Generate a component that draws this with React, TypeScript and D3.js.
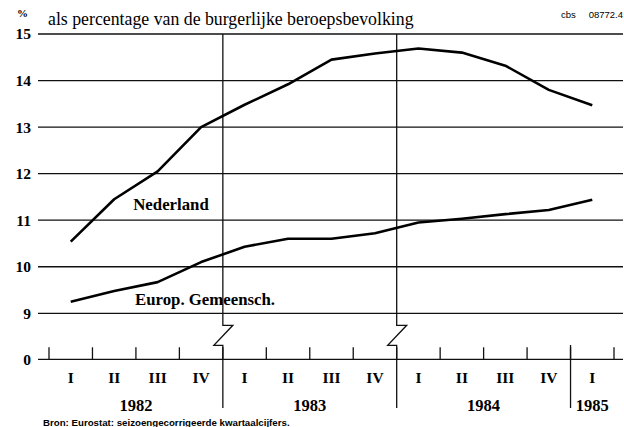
import React from "react";
import { scaleLinear, line } from "d3";

// quarterly unemployment, % of civilian labour force (seasonally adjusted)
const quarters = ["I", "II", "III", "IV", "I", "II", "III", "IV", "I", "II", "III", "IV", "I"];
const years = [
  { label: "1982", start: 0, end: 4 },
  { label: "1983", start: 4, end: 8 },
  { label: "1984", start: 8, end: 12 },
  { label: "1985", start: 12, end: 13 }
];
const nederland = [10.54, 11.45, 12.05, 13.0, 13.48, 13.92, 14.45, 14.58, 14.69, 14.6, 14.32, 13.8, 13.47];
const europ = [9.25, 9.48, 9.67, 10.1, 10.43, 10.6, 10.6, 10.72, 10.95, 11.03, 11.13, 11.22, 11.44];
const yTicks = [0, 9, 10, 11, 12, 13, 14, 15];

const W = 624;
const H = 427;
const LEFT = 38;
const RIGHT = 623;

export default function App() {
  // broken axis: 0 .. 9 squeezed, 9 .. 15 regular
  const y = scaleLinear().domain([0, 9, 15]).range([359.3, 313.3, 34]);
  const x = scaleLinear().domain([0, 13]).range([49, 614]);

  const lineFn = line<number>()
    .x((d, i) => x(i + 0.5))
    .y(d => y(d));

  const serif = "Liberation Serif";
  const sans = "Liberation Sans";

  const breakMark = (bx: number) => {
    const top = y(9);
    const bot = y(0);
    return `M${bx},${top}V${top + 12}H${bx + 10}L${bx - 9},${top + 32}H${bx}V${bot}`;
  };

  return (
    <svg
      width={W}
      height={H}
      style={{ position: "absolute", left: 0, top: 0, background: "#fff" }}
    >
      <rect width={W} height={H} fill="#fff" />

      {/* header */}
      <text x={17} y={17} fontFamily={serif} fontSize={11} fontWeight="bold">
        %
      </text>
      <text x={48} y={25} fontFamily={serif} fontSize={17.8}>
        als percentage van de burgerlijke beroepsbevolking
      </text>
      <text x={561} y={18} fontFamily={sans} fontSize={9.5}>
        cbs
      </text>
      <text x={623} y={18} textAnchor="end" fontFamily={sans} fontSize={9.5}>
        08772.4
      </text>

      {/* gridlines + y labels */}
      {yTicks.map(v => (
        <g key={v}>
          <line x1={LEFT} x2={RIGHT} y1={y(v)} y2={y(v)} stroke="#111" strokeWidth={1.3} />
          <text
            x={31}
            y={y(v)}
            dy="0.35em"
            textAnchor="end"
            fontFamily={serif}
            fontSize={15.5}
            fontWeight="bold"
          >
            {v}
          </text>
        </g>
      ))}

      {/* quarter ticks on the 0 axis */}
      {quarters.map((q, i) => (
        <g key={"t" + i}>
          <line x1={x(i)} x2={x(i)} y1={y(0)} y2={y(0) - 12} stroke="#111" strokeWidth={1.3} />
          <text
            x={x(i + 0.5)}
            y={383}
            textAnchor="middle"
            fontFamily={serif}
            fontSize={15.5}
            fontWeight="bold"
          >
            {q}
          </text>
        </g>
      ))}
      <line x1={x(13)} x2={x(13)} y1={y(0)} y2={y(0) - 12} stroke="#111" strokeWidth={1.3} />

      {/* year labels */}
      {years.map(yr => (
        <text
          key={yr.label}
          x={(x(yr.start) + x(yr.end)) / 2}
          y={411}
          textAnchor="middle"
          fontFamily={serif}
          fontSize={16.5}
          fontWeight="bold"
        >
          {yr.label}
        </text>
      ))}
      {[4, 8].map(b => (
        <g key={"b" + b}>
          <line x1={x(b)} x2={x(b)} y1={y(15)} y2={y(9)} stroke="#111" strokeWidth={1.3} />
          <path d={breakMark(x(b))} fill="none" stroke="#111" strokeWidth={1.3} />
          <line x1={x(b)} x2={x(b)} y1={y(0)} y2={408} stroke="#111" strokeWidth={1.3} />
        </g>
      ))}
      <line x1={x(12)} x2={x(12)} y1={345} y2={408} stroke="#111" strokeWidth={1.3} />

      {/* series */}
      <path d={lineFn(nederland)!} fill="none" stroke="#000" strokeWidth={2.6} strokeLinejoin="round" />
      <path d={lineFn(europ)!} fill="none" stroke="#000" strokeWidth={2.6} strokeLinejoin="round" />

      <text x={171} y={210} textAnchor="middle" fontFamily={serif} fontSize={16.8} fontWeight="bold">
        Nederland
      </text>
      <text x={205} y={305} textAnchor="middle" fontFamily={serif} fontSize={16.8} fontWeight="bold">
        Europ. Gemeensch.
      </text>

      <text x={43} y={426} fontFamily={sans} fontSize={9.7} fontWeight="bold">
        Bron: Eurostat: seizoengecorrigeerde kwartaalcijfers.
      </text>
    </svg>
  );
}
